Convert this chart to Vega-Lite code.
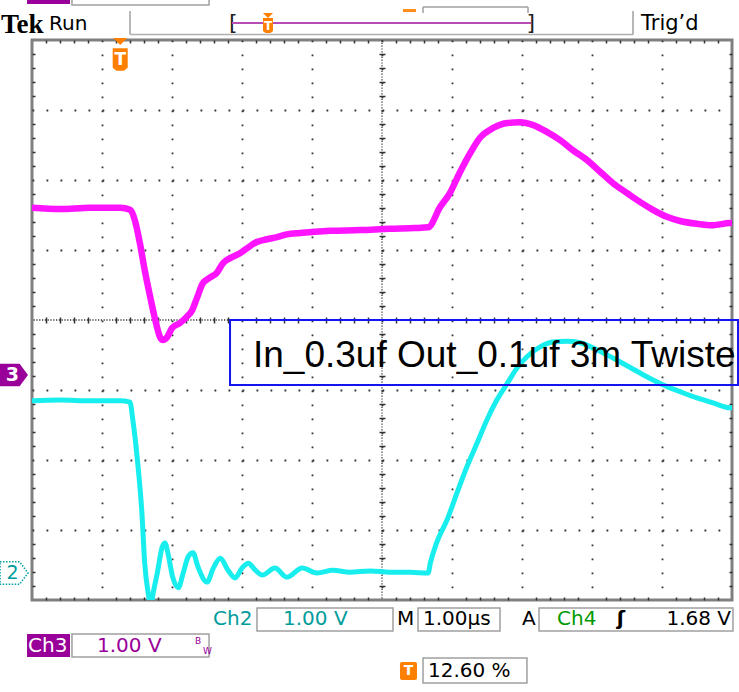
{
  "$schema": "https://vega.github.io/schema/vega-lite/v6.json",
  "width": 700,
  "height": 560,
  "autosize": "none",
  "padding": {"left": 32, "top": 40, "right": 7, "bottom": 92},
  "background": "white",
  "config": {"view": {"stroke": "#808080", "strokeWidth": 3}, "text": {"font": "DejaVu Sans"}, "axis": {"disable": true}},
  "data": {"name": "one"},
  "datasets": {
    "one": [{"g": 0}],
    "ch3": [
      {"t": -1.26, "v": 2.39}, {"t": -0.86, "v": 2.37}, {"t": -0.43, "v": 2.39}, {"t": 0.0, "v": 2.39},
      {"t": 0.14, "v": 2.36}, {"t": 0.21, "v": 2.21}, {"t": 0.28, "v": 1.89}, {"t": 0.35, "v": 1.5},
      {"t": 0.43, "v": 1.11}, {"t": 0.5, "v": 0.79}, {"t": 0.57, "v": 0.54}, {"t": 0.61, "v": 0.5},
      {"t": 0.67, "v": 0.54}, {"t": 0.74, "v": 0.67}, {"t": 0.85, "v": 0.74}, {"t": 0.95, "v": 0.83},
      {"t": 1.03, "v": 0.93}, {"t": 1.1, "v": 1.11}, {"t": 1.18, "v": 1.31}, {"t": 1.28, "v": 1.39},
      {"t": 1.38, "v": 1.46}, {"t": 1.47, "v": 1.6}, {"t": 1.57, "v": 1.67}, {"t": 1.71, "v": 1.74},
      {"t": 1.81, "v": 1.81}, {"t": 1.95, "v": 1.9}, {"t": 2.1, "v": 1.94}, {"t": 2.24, "v": 1.97},
      {"t": 2.38, "v": 2.01}, {"t": 2.57, "v": 2.03}, {"t": 3.0, "v": 2.06}, {"t": 3.43, "v": 2.07},
      {"t": 3.85, "v": 2.09}, {"t": 4.21, "v": 2.1}, {"t": 4.4, "v": 2.11}, {"t": 4.57, "v": 2.4},
      {"t": 4.71, "v": 2.6}, {"t": 4.85, "v": 2.89}, {"t": 5.0, "v": 3.17}, {"t": 5.14, "v": 3.39},
      {"t": 5.33, "v": 3.53}, {"t": 5.53, "v": 3.6}, {"t": 5.71, "v": 3.61}, {"t": 5.9, "v": 3.57},
      {"t": 6.1, "v": 3.47}, {"t": 6.28, "v": 3.36}, {"t": 6.47, "v": 3.21}, {"t": 6.67, "v": 3.07},
      {"t": 6.86, "v": 2.9}, {"t": 7.04, "v": 2.74}, {"t": 7.24, "v": 2.6}, {"t": 7.43, "v": 2.47},
      {"t": 7.61, "v": 2.36}, {"t": 7.81, "v": 2.26}, {"t": 8.0, "v": 2.2}, {"t": 8.24, "v": 2.16},
      {"t": 8.47, "v": 2.14}, {"t": 8.71, "v": 2.17}, {"t": 8.74, "v": 2.17}
    ],
    "ch2": [
      {"t": -1.26, "v": 2.46}, {"t": -0.86, "v": 2.47}, {"t": -0.43, "v": 2.46}, {"t": 0.0, "v": 2.46},
      {"t": 0.14, "v": 2.44}, {"t": 0.18, "v": 2.19}, {"t": 0.25, "v": 1.57}, {"t": 0.31, "v": 0.86},
      {"t": 0.35, "v": 0.14}, {"t": 0.4, "v": -0.29}, {"t": 0.44, "v": -0.46}, {"t": 0.47, "v": -0.29},
      {"t": 0.53, "v": 0.0}, {"t": 0.6, "v": 0.37}, {"t": 0.64, "v": 0.43}, {"t": 0.68, "v": 0.29},
      {"t": 0.75, "v": -0.06}, {"t": 0.83, "v": -0.21}, {"t": 0.9, "v": 0.0}, {"t": 0.97, "v": 0.23},
      {"t": 1.04, "v": 0.29}, {"t": 1.11, "v": 0.09}, {"t": 1.24, "v": -0.13}, {"t": 1.33, "v": 0.07},
      {"t": 1.43, "v": 0.21}, {"t": 1.54, "v": 0.04}, {"t": 1.64, "v": -0.07}, {"t": 1.74, "v": 0.07},
      {"t": 1.83, "v": 0.14}, {"t": 1.93, "v": 0.04}, {"t": 2.03, "v": -0.03}, {"t": 2.21, "v": 0.07},
      {"t": 2.38, "v": -0.06}, {"t": 2.6, "v": 0.07}, {"t": 2.81, "v": 0.0}, {"t": 3.04, "v": 0.04},
      {"t": 3.28, "v": 0.01}, {"t": 3.57, "v": 0.03}, {"t": 3.85, "v": 0.01}, {"t": 4.14, "v": 0.01},
      {"t": 4.4, "v": 0.0}, {"t": 4.43, "v": 0.14}, {"t": 4.52, "v": 0.43}, {"t": 4.67, "v": 0.76},
      {"t": 4.81, "v": 1.14}, {"t": 4.95, "v": 1.51}, {"t": 5.1, "v": 1.86}, {"t": 5.24, "v": 2.19},
      {"t": 5.38, "v": 2.47}, {"t": 5.53, "v": 2.71}, {"t": 5.67, "v": 2.93}, {"t": 5.81, "v": 3.09},
      {"t": 6.0, "v": 3.23}, {"t": 6.18, "v": 3.3}, {"t": 6.38, "v": 3.31}, {"t": 6.57, "v": 3.29},
      {"t": 6.81, "v": 3.19}, {"t": 7.04, "v": 3.07}, {"t": 7.28, "v": 2.94}, {"t": 7.53, "v": 2.8},
      {"t": 7.75, "v": 2.69}, {"t": 8.0, "v": 2.59}, {"t": 8.24, "v": 2.5}, {"t": 8.47, "v": 2.43},
      {"t": 8.71, "v": 2.36}, {"t": 8.74, "v": 2.36}
    ]
  },
  "resolve": {"scale": {"y": "independent"}, "axis": {"x": "independent"}},
  "layer": [
    {
      "mark": {"type": "point", "opacity": 0},
      "encoding": {
        "x": {"field": "g", "type": "quantitative",
          "scale": {"domain": [-1.26, 8.74], "nice": false, "zero": false},
          "axis": {"orient": "bottom", "title": null, "labels": false, "ticks": false, "domain": false, "grid": true,
            "values": [-0.26, 0.74, 1.74, 2.74, 3.74, 4.74, 5.74, 6.74, 7.74],
            "gridColor": "#333333", "gridWidth": 1.8, "gridOpacity": 1, "gridDash": [1.8, 12.2]}},
        "y": {"field": "g", "type": "quantitative",
          "scale": {"domain": [-4, 4], "nice": false, "zero": false},
          "axis": {"orient": "left", "title": null, "labels": false, "ticks": false, "domain": false, "grid": true,
            "values": [-3, -2, -1, 1, 2, 3],
            "gridColor": "#333333", "gridWidth": 1.8, "gridOpacity": 1, "gridDash": [1.8, 12.2]}}
      }
    },
    {
      "mark": {"type": "point", "opacity": 0},
      "encoding": {
        "x": {"field": "g", "type": "quantitative",
          "axis": {"orient": "bottom", "title": null, "labels": false, "ticks": false, "domain": false, "grid": true,
            "values": [-1.06,-0.86,-0.66,-0.46,-0.06,0.14,0.34,0.54,0.94,1.14,1.34,1.54,1.94,2.14,2.34,2.54,2.94,3.14,3.34,3.54,3.94,4.14,4.34,4.54,4.94,5.14,5.34,5.54,5.94,6.14,6.34,6.54,6.94,7.14,7.34,7.54,7.94,8.14,8.34,8.54],
            "gridColor": "#333333", "gridWidth": 1.5, "gridOpacity": 1, "gridDash": [3, 274, 6, 274, 3]}},
        "y": {"field": "g", "type": "quantitative",
          "scale": {"domain": [-4, 4], "nice": false, "zero": false},
          "axis": {"orient": "left", "title": null, "labels": false, "ticks": false, "domain": false, "grid": true,
            "values": [-3.8,-3.6,-3.4,-3.2,-2.8,-2.6,-2.4,-2.2,-1.8,-1.6,-1.4,-1.2,-0.8,-0.6,-0.4,-0.2,0.2,0.4,0.6,0.8,1.2,1.4,1.6,1.8,2.2,2.4,2.6,2.8,3.2,3.4,3.6,3.8],
            "gridColor": "#333333", "gridWidth": 1.5, "gridOpacity": 1, "gridDash": [3, 344, 6, 344, 3]}}
      }
    },
    {
      "mark": {"type": "rule", "color": "#333333", "strokeWidth": 1.3, "strokeDash": [1.2, 1.6]},
      "encoding": {"y": {"datum": 0, "type": "quantitative", "scale": {"domain": [-4, 4], "nice": false, "zero": false}}}
    },
    {
      "mark": {"type": "rule", "color": "#333333", "strokeWidth": 1.3, "strokeDash": [1.2, 1.6]},
      "encoding": {"x": {"datum": 3.74, "type": "quantitative"}}
    },
    {
      "data": {"name": "ch3"},
      "mark": {"type": "line", "color": "#ff14ff", "strokeWidth": 6.5, "clip": true, "interpolate": "monotone"},
      "encoding": {
        "x": {"field": "t", "type": "quantitative"},
        "y": {"field": "v", "type": "quantitative", "scale": {"domain": [-3.214, 4.786], "nice": false, "zero": false}}
      }
    },
    {
      "data": {"name": "ch2"},
      "mark": {"type": "line", "color": "#18eeee", "strokeWidth": 5, "clip": true, "interpolate": "monotone"},
      "encoding": {
        "x": {"field": "t", "type": "quantitative"},
        "y": {"field": "v", "type": "quantitative", "scale": {"domain": [-0.386, 7.614], "nice": false, "zero": false}}
      }
    },
    {
      "data": {"name": "one"},
      "layer": [
        {
          "mark": {"type": "rect", "fill": "white", "fillOpacity": 0, "stroke": "#1414ee", "strokeWidth": 2},
          "encoding": {
            "x": {"datum": 1.569, "type": "quantitative"},
            "x2": {"datum": 8.826},
            "y": {"datum": 0, "type": "quantitative", "scale": {"domain": [-4, 4], "nice": false, "zero": false}},
            "y2": {"datum": -0.929}
          }
        },
        {
          "mark": {"type": "text", "text": "In_0.3uf Out_0.1uf 3m Twiste", "align": "left", "baseline": "alphabetic", "font": "Liberation Sans", "fontSize": 37, "fill": "black"},
          "encoding": {"x": {"datum": 1.897, "type": "quantitative"}, "y": {"datum": -0.671, "type": "quantitative"}}
        },
        {
          "mark": {"type": "text", "text": "Tek", "align": "left", "baseline": "alphabetic", "font": "Liberation Serif", "fontWeight": "bold", "fontSize": 27, "fill": "black"},
          "encoding": {"x": {"datum": -1.703, "type": "quantitative"}, "y": {"datum": 4.1, "type": "quantitative"}}
        },
        {
          "mark": {"type": "text", "text": "Run", "align": "left", "baseline": "alphabetic", "fontSize": 20, "fill": "black"},
          "encoding": {"x": {"datum": -1.017, "type": "quantitative"}, "y": {"datum": 4.143, "type": "quantitative"}}
        },
        {
          "mark": {"type": "text", "text": "Trig’d", "align": "left", "baseline": "alphabetic", "fontSize": 21, "fill": "black"},
          "encoding": {"x": {"datum": 7.44, "type": "quantitative"}, "y": {"datum": 4.143, "type": "quantitative"}}
        },
        {
          "mark": {"type": "rule", "color": "#a0a0a0", "strokeWidth": 1.5},
          "encoding": {"x": {"datum": 0.14, "type": "quantitative"}, "y": {"datum": 4.414, "type": "quantitative"}, "y2": {"datum": 4.079}}
        },
        {
          "mark": {"type": "rule", "color": "#b0b0b0", "strokeWidth": 1.5},
          "encoding": {"x": {"datum": 0.14, "type": "quantitative"}, "x2": {"datum": 7.326}, "y": {"datum": 4.079, "type": "quantitative"}}
        },
        {
          "mark": {"type": "rule", "color": "#a0a0a0", "strokeWidth": 1.5},
          "encoding": {"x": {"datum": 7.326, "type": "quantitative"}, "y": {"datum": 4.414, "type": "quantitative"}, "y2": {"datum": 4.079}}
        },
        {
          "mark": {"type": "text", "text": "[", "align": "left", "baseline": "alphabetic", "fontSize": 22, "fill": "#222222"},
          "encoding": {"x": {"datum": 1.554, "type": "quantitative"}, "y": {"datum": 4.143, "type": "quantitative"}}
        },
        {
          "mark": {"type": "text", "text": "]", "align": "right", "baseline": "alphabetic", "fontSize": 22, "fill": "#222222"},
          "encoding": {"x": {"datum": 5.926, "type": "quantitative"}, "y": {"datum": 4.143, "type": "quantitative"}}
        },
        {
          "mark": {"type": "rule", "color": "#b54db5", "strokeWidth": 2},
          "encoding": {"x": {"datum": 1.597, "type": "quantitative"}, "x2": {"datum": 5.869}, "y": {"datum": 4.243, "type": "quantitative"}}
        },
        {
          "mark": {"type": "point", "shape": "M-1,-0.5L1,-0.5L0,0.5Z", "size": 100, "filled": true, "fill": "#ff7f00", "opacity": 1, "strokeWidth": 0},
          "encoding": {"x": {"datum": 2.111, "type": "quantitative"}, "y": {"datum": 4.35, "type": "quantitative"}}
        },
        {
          "mark": {"type": "point", "shape": "M-1,-1.5L1,-1.5L1,1.1L0.5,1.5L-0.5,1.5L-1,1.1Z", "size": 100, "filled": true, "fill": "#ff7f00", "opacity": 1, "strokeWidth": 0},
          "encoding": {"x": {"datum": 2.111, "type": "quantitative"}, "y": {"datum": 4.207, "type": "quantitative"}}
        },
        {
          "mark": {"type": "text", "text": "T", "align": "center", "baseline": "middle", "fontSize": 12, "fontWeight": "bold", "fill": "white"},
          "encoding": {"x": {"datum": 2.111, "type": "quantitative"}, "y": {"datum": 4.207, "type": "quantitative"}}
        },
        {
          "mark": {"type": "rect", "fill": "#990099"},
          "encoding": {"x": {"datum": -1.331, "type": "quantitative"}, "x2": {"datum": -0.717}, "y": {"datum": 4.714, "type": "quantitative"}, "y2": {"datum": 4.514}}
        },
        {
          "mark": {"type": "rect", "fill": "white", "stroke": "#a0a0a0", "strokeWidth": 1.5},
          "encoding": {"x": {"datum": -0.689, "type": "quantitative"}, "x2": {"datum": 1.269}, "y": {"datum": 4.714, "type": "quantitative"}, "y2": {"datum": 4.5}}
        },
        {
          "mark": {"type": "rule", "color": "#ff8c1a", "strokeWidth": 3},
          "encoding": {"x": {"datum": 4.04, "type": "quantitative"}, "x2": {"datum": 4.226}, "y": {"datum": 4.421, "type": "quantitative"}}
        },
        {
          "mark": {"type": "rule", "color": "#a0a0a0", "strokeWidth": 1.5},
          "encoding": {"x": {"datum": 4.326, "type": "quantitative"}, "x2": {"datum": 5.826}, "y": {"datum": 4.471, "type": "quantitative"}}
        },
        {
          "mark": {"type": "rule", "color": "#a0a0a0", "strokeWidth": 1.5},
          "encoding": {"x": {"datum": 4.326, "type": "quantitative"}, "y": {"datum": 4.471, "type": "quantitative"}, "y2": {"datum": 4.386}}
        },
        {
          "mark": {"type": "rule", "color": "#a0a0a0", "strokeWidth": 1.5},
          "encoding": {"x": {"datum": 5.826, "type": "quantitative"}, "y": {"datum": 4.471, "type": "quantitative"}, "y2": {"datum": 4.386}}
        },
        {
          "mark": {"type": "point", "shape": "M-1,-0.5L1,-0.5L0,0.5Z", "size": 196, "filled": true, "fill": "#ff7f00", "opacity": 1, "strokeWidth": 0},
          "encoding": {"x": {"datum": 0, "type": "quantitative"}, "y": {"datum": 3.979, "type": "quantitative"}}
        },
        {
          "mark": {"type": "point", "shape": "M-1,-1.5L1,-1.5L1,1.1L0.5,1.5L-0.5,1.5L-1,1.1Z", "size": 225, "filled": true, "fill": "#ff7f00", "opacity": 1, "strokeWidth": 0},
          "encoding": {"x": {"datum": 0, "type": "quantitative"}, "y": {"datum": 3.721, "type": "quantitative"}}
        },
        {
          "mark": {"type": "text", "text": "T", "align": "center", "baseline": "middle", "fontSize": 17, "fontWeight": "bold", "fill": "white"},
          "encoding": {"x": {"datum": 0, "type": "quantitative"}, "y": {"datum": 3.721, "type": "quantitative"}}
        },
        {
          "mark": {"type": "point", "shape": "M-1,-0.8L0.4,-0.8L1,0L0.4,0.8L-1,0.8Z", "size": 784, "filled": true, "fill": "#990099", "opacity": 1, "strokeWidth": 0},
          "encoding": {"x": {"datum": -1.517, "type": "quantitative"}, "y": {"datum": -0.786, "type": "quantitative"}}
        },
        {
          "mark": {"type": "text", "text": "3", "align": "center", "baseline": "middle", "fontSize": 19, "fontWeight": "bold", "fill": "white"},
          "encoding": {"x": {"datum": -1.539, "type": "quantitative"}, "y": {"datum": -0.786, "type": "quantitative"}}
        },
        {
          "mark": {"type": "point", "shape": "M-1,-0.8L0.4,-0.8L1,0L0.4,0.8L-1,0.8Z", "size": 784, "filled": false, "fill": "white", "fillOpacity": 1, "stroke": "#00a0a0", "strokeWidth": 1.5, "strokeDash": [1.5, 1.5], "opacity": 1},
          "encoding": {"x": {"datum": -1.517, "type": "quantitative"}, "y": {"datum": -3.614, "type": "quantitative"}}
        },
        {
          "mark": {"type": "text", "text": "2", "align": "center", "baseline": "middle", "fontSize": 19, "fill": "#009c9c"},
          "encoding": {"x": {"datum": -1.539, "type": "quantitative"}, "y": {"datum": -3.614, "type": "quantitative"}}
        },
        {
          "mark": {"type": "text", "text": "Ch2", "align": "left", "baseline": "alphabetic", "fontSize": 20, "fill": "#009c9c"},
          "encoding": {"x": {"datum": 1.326, "type": "quantitative"}, "y": {"datum": -4.357, "type": "quantitative"}}
        },
        {
          "mark": {"type": "rect", "fill": "white", "stroke": "#a0a0a0", "strokeWidth": 1.5},
          "encoding": {"x": {"datum": 1.954, "type": "quantitative"}, "x2": {"datum": 3.897}, "y": {"datum": -4.114, "type": "quantitative"}, "y2": {"datum": -4.443}}
        },
        {
          "mark": {"type": "text", "text": "1.00 V", "align": "left", "baseline": "alphabetic", "fontSize": 20, "fill": "#009c9c"},
          "encoding": {"x": {"datum": 2.326, "type": "quantitative"}, "y": {"datum": -4.357, "type": "quantitative"}}
        },
        {
          "mark": {"type": "text", "text": "M", "align": "left", "baseline": "alphabetic", "fontSize": 20, "fill": "black"},
          "encoding": {"x": {"datum": 3.954, "type": "quantitative"}, "y": {"datum": -4.357, "type": "quantitative"}}
        },
        {
          "mark": {"type": "rect", "fill": "white", "stroke": "#a0a0a0", "strokeWidth": 1.5},
          "encoding": {"x": {"datum": 4.254, "type": "quantitative"}, "x2": {"datum": 5.426}, "y": {"datum": -4.114, "type": "quantitative"}, "y2": {"datum": -4.443}}
        },
        {
          "mark": {"type": "text", "text": "1.00µs", "align": "left", "baseline": "alphabetic", "fontSize": 20, "fill": "black"},
          "encoding": {"x": {"datum": 4.326, "type": "quantitative"}, "y": {"datum": -4.357, "type": "quantitative"}}
        },
        {
          "mark": {"type": "text", "text": "A", "align": "left", "baseline": "alphabetic", "fontSize": 20, "fill": "black"},
          "encoding": {"x": {"datum": 5.74, "type": "quantitative"}, "y": {"datum": -4.357, "type": "quantitative"}}
        },
        {
          "mark": {"type": "rect", "fill": "white", "stroke": "#a0a0a0", "strokeWidth": 1.5},
          "encoding": {"x": {"datum": 5.983, "type": "quantitative"}, "x2": {"datum": 8.754}, "y": {"datum": -4.114, "type": "quantitative"}, "y2": {"datum": -4.443}}
        },
        {
          "mark": {"type": "text", "text": "Ch4", "align": "left", "baseline": "alphabetic", "fontSize": 20, "fill": "#009900"},
          "encoding": {"x": {"datum": 6.24, "type": "quantitative"}, "y": {"datum": -4.357, "type": "quantitative"}}
        },
        {
          "mark": {"type": "text", "text": "ʃ", "align": "center", "baseline": "alphabetic", "fontSize": 20, "fontWeight": "bold", "fill": "black"},
          "encoding": {"x": {"datum": 7.154, "type": "quantitative"}, "y": {"datum": -4.357, "type": "quantitative"}}
        },
        {
          "mark": {"type": "text", "text": "1.68 V", "align": "right", "baseline": "alphabetic", "fontSize": 20, "fill": "black"},
          "encoding": {"x": {"datum": 8.726, "type": "quantitative"}, "y": {"datum": -4.357, "type": "quantitative"}}
        },
        {
          "mark": {"type": "rect", "fill": "#990099"},
          "encoding": {"x": {"datum": -1.331, "type": "quantitative"}, "x2": {"datum": -0.717}, "y": {"datum": -4.486, "type": "quantitative"}, "y2": {"datum": -4.814}}
        },
        {
          "mark": {"type": "text", "text": "Ch3", "align": "left", "baseline": "alphabetic", "fontSize": 20, "fill": "white"},
          "encoding": {"x": {"datum": -1.317, "type": "quantitative"}, "y": {"datum": -4.743, "type": "quantitative"}}
        },
        {
          "mark": {"type": "rect", "fill": "white", "stroke": "#a0a0a0", "strokeWidth": 1.5},
          "encoding": {"x": {"datum": -0.689, "type": "quantitative"}, "x2": {"datum": 1.269}, "y": {"datum": -4.486, "type": "quantitative"}, "y2": {"datum": -4.814}}
        },
        {
          "mark": {"type": "text", "text": "1.00 V", "align": "left", "baseline": "alphabetic", "fontSize": 20, "fill": "#990099"},
          "encoding": {"x": {"datum": -0.331, "type": "quantitative"}, "y": {"datum": -4.743, "type": "quantitative"}}
        },
        {
          "mark": {"type": "text", "text": "B", "align": "left", "baseline": "alphabetic", "fontSize": 9, "fill": "#990099"},
          "encoding": {"x": {"datum": 1.069, "type": "quantitative"}, "y": {"datum": -4.629, "type": "quantitative"}}
        },
        {
          "mark": {"type": "text", "text": "W", "align": "left", "baseline": "alphabetic", "fontSize": 9, "fill": "#990099"},
          "encoding": {"x": {"datum": 1.183, "type": "quantitative"}, "y": {"datum": -4.771, "type": "quantitative"}}
        },
        {
          "mark": {"type": "rect", "fill": "#ff7f00", "cornerRadius": 2},
          "encoding": {"x": {"datum": 3.997, "type": "quantitative"}, "x2": {"datum": 4.24}, "y": {"datum": -4.886, "type": "quantitative"}, "y2": {"datum": -5.143}}
        },
        {
          "mark": {"type": "text", "text": "T", "align": "center", "baseline": "middle", "fontSize": 14, "fontWeight": "bold", "fill": "white"},
          "encoding": {"x": {"datum": 4.119, "type": "quantitative"}, "y": {"datum": -5.014, "type": "quantitative"}}
        },
        {
          "mark": {"type": "rect", "fill": "white", "stroke": "#a0a0a0", "strokeWidth": 1.5},
          "encoding": {"x": {"datum": 4.326, "type": "quantitative"}, "x2": {"datum": 5.811}, "y": {"datum": -4.829, "type": "quantitative"}, "y2": {"datum": -5.186}}
        },
        {
          "mark": {"type": "text", "text": "12.60 %", "align": "left", "baseline": "alphabetic", "fontSize": 20, "fill": "black"},
          "encoding": {"x": {"datum": 4.397, "type": "quantitative"}, "y": {"datum": -5.1, "type": "quantitative"}}
        }
      ]
    }
  ]
}
